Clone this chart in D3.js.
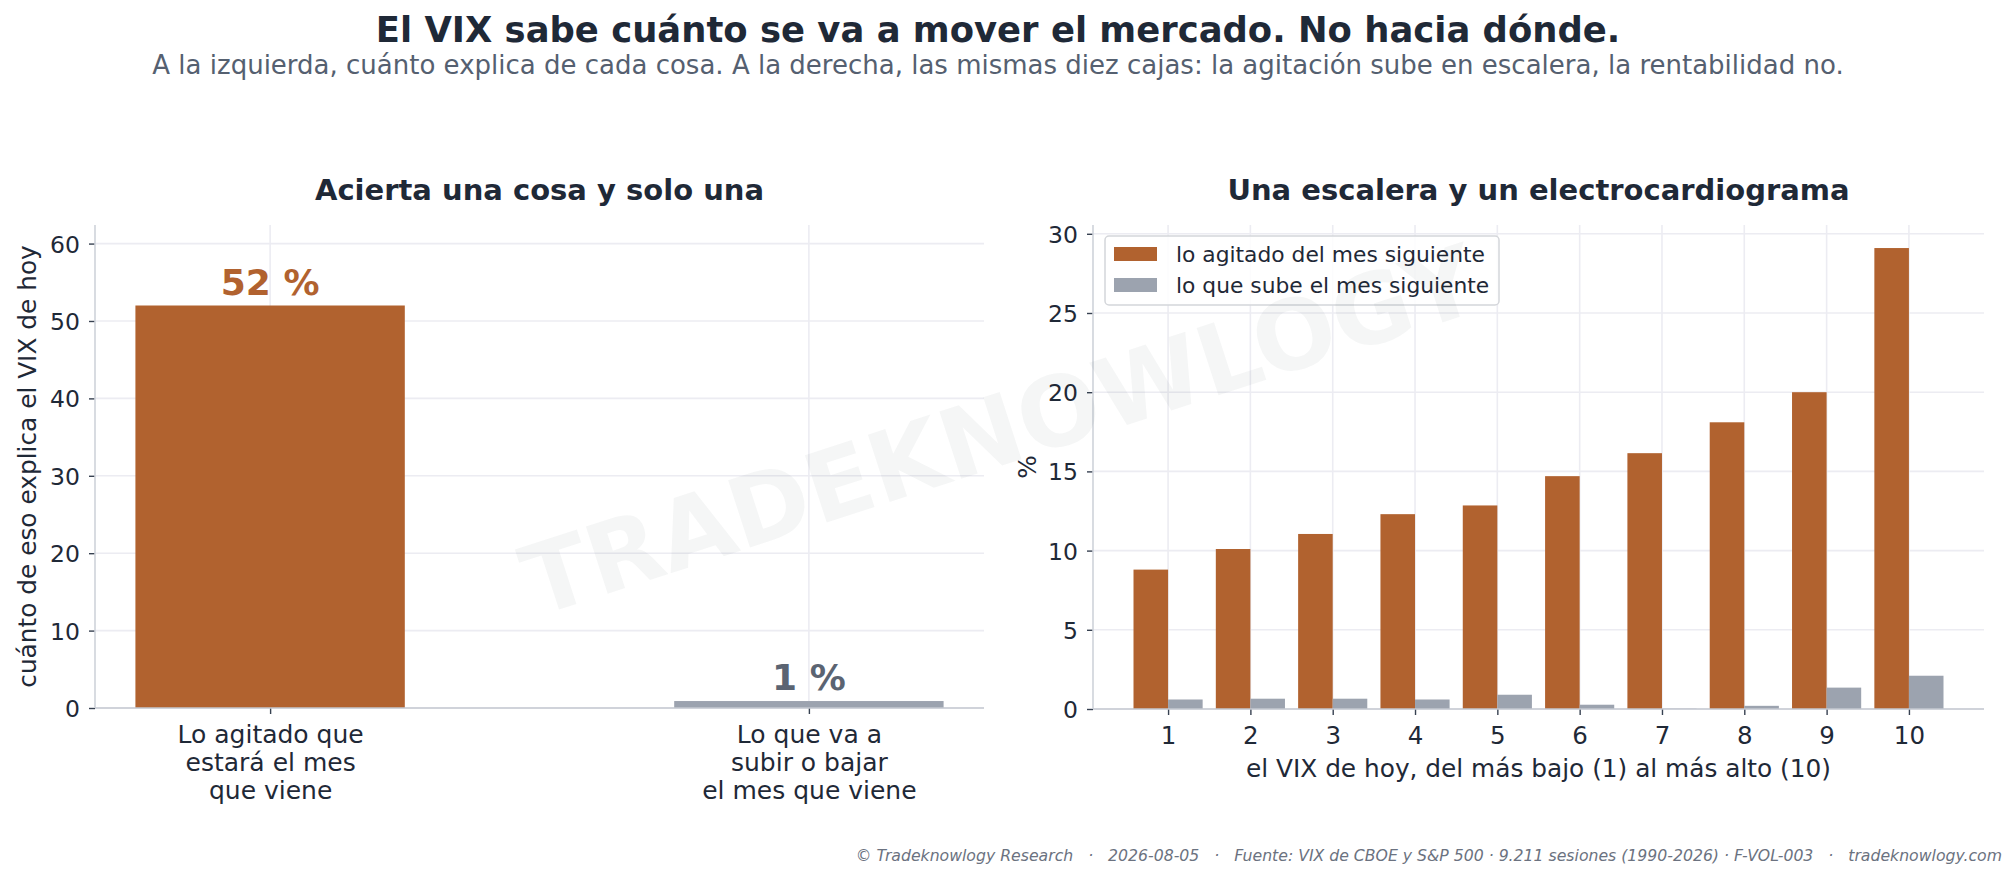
<!DOCTYPE html>
<html>
<head>
<meta charset="utf-8">
<script src="https://cdn.jsdelivr.net/npm/d3@7"></script>
<style>
  body { margin: 0; background: #fff; }
  svg { font-family: "DejaVu Sans", sans-serif; display: block; }
  .grid line { stroke: #ececf2; stroke-width: 1.6; }
  .axis text { fill: #1f2937; font-family: "DejaVu Sans", sans-serif; }
  .axis .tick line { stroke: #374151; stroke-width: 1.4; }
</style>
</head>
<body>
<svg id="chart"></svg>
<script>
let width = 2015;
let height = 879;

// left panel: share explained by today's VIX
let leftCats = [
  ["Lo agitado que", "estará el mes", "que viene"],
  ["Lo que va a", "subir o bajar", "el mes que viene"]
];
let leftValues = [52, 0.9];
let leftTicks = [0, 10, 20, 30, 40, 50, 60];

// right panel: ten VIX buckets
let deciles = [1, 2, 3, 4, 5, 6, 7, 8, 9, 10];
let agitado = [8.8, 10.1, 11.05, 12.3, 12.85, 14.7, 16.15, 18.1, 20.0, 29.1];
let sube = [0.6, 0.65, 0.65, 0.6, 0.9, 0.27, 0.02, 0.2, 1.35, 2.1];
let rightTicks = [0, 5, 10, 15, 20, 25, 30];
let seriesNames = ["lo agitado del mes siguiente", "lo que sube el mes siguiente"];

let orange = "#b1622f";
let grey = "#9ca3af";
let dark = "#1f2937";

let svg = d3.select("#chart").attr("width", width).attr("height", height);

// titles
svg.append("text")
  .attr("x", 998).attr("y", 42)
  .attr("text-anchor", "middle")
  .style("font-size", "35.4px").style("font-weight", "bold")
  .style("fill", dark)
  .text("El VIX sabe cuánto se va a mover el mercado. No hacia dónde.");

svg.append("text")
  .attr("x", 998).attr("y", 74)
  .attr("text-anchor", "middle")
  .style("font-size", "26px")
  .style("fill", "#556070")
  .text("A la izquierda, cuánto explica de cada cosa. A la derecha, las mismas diez cajas: la agitación sube en escalera, la rentabilidad no.");

// ---------- left panel ----------
let L = { left: 95, right: 984, top: 225, bottom: 708 };

let xL = d3.scaleLinear().domain([-0.325, 1.325]).range([L.left, L.right]);
let yL = d3.scaleLinear().domain([0, 62.4]).range([L.bottom, L.top]);

let gl = svg.append("g");

gl.append("g").attr("class", "grid")
  .selectAll("line").data(leftTicks).join("line")
  .attr("x1", L.left).attr("x2", L.right)
  .attr("y1", d => yL(d)).attr("y2", d => yL(d));

gl.append("g").attr("class", "grid")
  .selectAll("line").data(leftCats).join("line")
  .attr("x1", (d, i) => xL(i)).attr("x2", (d, i) => xL(i))
  .attr("y1", L.top).attr("y2", L.bottom);

gl.selectAll("rect.bar")
  .data(leftValues)
  .join("rect")
  .attr("class", "bar")
  .attr("x", (d, i) => xL(i - 0.25))
  .attr("width", xL(0.5) - xL(0))
  .attr("y", d => yL(d))
  .attr("height", d => yL(0) - yL(d))
  .attr("fill", (d, i) => i == 0 ? orange : grey);

gl.selectAll("text.val")
  .data(leftValues)
  .join("text")
  .attr("class", "val")
  .attr("x", (d, i) => xL(i))
  .attr("y", d => yL(d) - 11)
  .attr("text-anchor", "middle")
  .style("font-size", "36px").style("font-weight", "bold")
  .style("fill", (d, i) => i == 0 ? orange : "#5b6472")
  .text(d => Math.round(d) + " %");

// y axis
let yAxisL = gl.append("g")
  .attr("class", "axis")
  .attr("transform", `translate(${L.left},0)`)
  .call(d3.axisLeft(yL).tickValues(leftTicks).tickSize(6).tickPadding(9))
  .call(g => g.select(".domain").remove());
yAxisL.selectAll("text").style("font-size", "23.5px").attr("dy", "0.36em");

// x axis with multi-line labels
let xAxisL = gl.append("g")
  .attr("class", "axis")
  .attr("transform", `translate(0,${L.bottom})`)
  .call(d3.axisBottom(xL).tickValues([0, 1]).tickSize(6).tickFormat(""))
  .call(g => g.select(".domain").remove());

xAxisL.selectAll(".tick").each(function (d) {
  let t = d3.select(this).select("text")
    .attr("y", 0).attr("dy", null)
    .style("font-size", "25px");
  leftCats[d].forEach((line, k) => {
    t.append("tspan").attr("x", 0).attr("y", 35 + k * 28).text(line);
  });
});

// spines
gl.append("line").attr("x1", L.left).attr("x2", L.left).attr("y1", L.top).attr("y2", L.bottom)
  .attr("stroke", "#cfd3da").attr("stroke-width", 1.6);
gl.append("line").attr("x1", L.left).attr("x2", L.right).attr("y1", L.bottom).attr("y2", L.bottom)
  .attr("stroke", "#c4c9d1").attr("stroke-width", 1.6);

gl.append("text")
  .attr("transform", `translate(36,${(L.top + L.bottom) / 2}) rotate(-90)`)
  .attr("text-anchor", "middle")
  .style("font-size", "24.8px").style("fill", dark)
  .text("cuánto de eso explica el VIX de hoy");

gl.append("text")
  .attr("x", (L.left + L.right) / 2).attr("y", 200)
  .attr("text-anchor", "middle")
  .style("font-size", "29px").style("font-weight", "bold").style("fill", dark)
  .text("Acierta una cosa y solo una");

// ---------- right panel ----------
let R = { left: 1093, right: 1984, top: 225, bottom: 709 };
let barW = 0.42;

let xR = d3.scaleLinear().domain([0.088, 10.912]).range([R.left, R.right]);
let yR = d3.scaleLinear().domain([0, d3.max(agitado) * 1.05]).range([R.bottom, R.top]);

let gr = svg.append("g");

gr.append("g").attr("class", "grid")
  .selectAll("line").data(rightTicks).join("line")
  .attr("x1", R.left).attr("x2", R.right)
  .attr("y1", d => yR(d)).attr("y2", d => yR(d));

gr.append("g").attr("class", "grid")
  .selectAll("line").data(deciles).join("line")
  .attr("x1", d => xR(d)).attr("x2", d => xR(d))
  .attr("y1", R.top).attr("y2", R.bottom);

gr.selectAll("rect.ag")
  .data(agitado)
  .join("rect")
  .attr("class", "ag")
  .attr("x", (d, i) => xR(deciles[i] - barW))
  .attr("width", xR(barW) - xR(0))
  .attr("y", d => yR(d))
  .attr("height", d => yR(0) - yR(d))
  .attr("fill", orange);

gr.selectAll("rect.su")
  .data(sube)
  .join("rect")
  .attr("class", "su")
  .attr("x", (d, i) => xR(deciles[i]))
  .attr("width", xR(barW) - xR(0))
  .attr("y", d => yR(d))
  .attr("height", d => yR(0) - yR(d))
  .attr("fill", grey);

let yAxisR = gr.append("g")
  .attr("class", "axis")
  .attr("transform", `translate(${R.left},0)`)
  .call(d3.axisLeft(yR).tickValues(rightTicks).tickSize(6).tickPadding(9))
  .call(g => g.select(".domain").remove());
yAxisR.selectAll("text").style("font-size", "23.5px").attr("dy", "0.36em");

let xAxisR = gr.append("g")
  .attr("class", "axis")
  .attr("transform", `translate(0,${R.bottom})`)
  .call(d3.axisBottom(xR).tickValues(deciles).tickSize(6).tickFormat(d3.format("d")))
  .call(g => g.select(".domain").remove());
xAxisR.selectAll("text").style("font-size", "24.5px").attr("y", 0).attr("dy", null)
  .attr("transform", "translate(0,35)");

gr.append("line").attr("x1", R.left).attr("x2", R.left).attr("y1", R.top).attr("y2", R.bottom)
  .attr("stroke", "#cfd3da").attr("stroke-width", 1.6);
gr.append("line").attr("x1", R.left).attr("x2", R.right).attr("y1", R.bottom).attr("y2", R.bottom)
  .attr("stroke", "#c4c9d1").attr("stroke-width", 1.6);

gr.append("text")
  .attr("transform", `translate(1036,${(R.top + R.bottom) / 2}) rotate(-90)`)
  .attr("text-anchor", "middle")
  .style("font-size", "24.8px").style("fill", dark)
  .text("%");

gr.append("text")
  .attr("x", (R.left + R.right) / 2).attr("y", 777)
  .attr("text-anchor", "middle")
  .style("font-size", "24.8px").style("fill", dark)
  .text("el VIX de hoy, del más bajo (1) al más alto (10)");

gr.append("text")
  .attr("x", (R.left + R.right) / 2).attr("y", 200)
  .attr("text-anchor", "middle")
  .style("font-size", "29px").style("font-weight", "bold").style("fill", dark)
  .text("Una escalera y un electrocardiograma");

// legend
let legend = gr.append("g").attr("transform", "translate(1105,236)");
legend.append("rect")
  .attr("width", 394).attr("height", 69).attr("rx", 4)
  .attr("fill", "#fff").attr("fill-opacity", 0.85)
  .attr("stroke", "#d4d6da").attr("stroke-width", 1.5);
let items = legend.selectAll("g.item")
  .data(seriesNames)
  .join("g")
  .attr("class", "item")
  .attr("transform", (d, i) => `translate(0,${18 + i * 31})`);
items.append("rect")
  .attr("x", 9).attr("y", -7).attr("width", 43).attr("height", 14)
  .attr("fill", (d, i) => i == 0 ? orange : grey);
items.append("text")
  .attr("x", 71).attr("dy", "0.36em")
  .style("font-size", "21.8px").style("fill", dark)
  .text(d => d);

// watermark
svg.append("text")
  .attr("transform", "translate(1000,431) rotate(-18)")
  .attr("text-anchor", "middle")
  .attr("dominant-baseline", "central")
  .style("font-size", "97px").style("font-weight", "bold")
  .style("fill", "#1f2937").style("fill-opacity", 0.045)
  .text("TRADEKNOWLOGY");

// footer
svg.append("text")
  .attr("x", 2002).attr("y", 861)
  .attr("text-anchor", "end")
  .attr("xml:space", "preserve")
  .style("white-space", "pre")
  .style("font-size", "15.7px").style("font-style", "italic")
  .style("fill", "#6b7280")
  .text("© Tradeknowlogy Research   ·   2026-08-05   ·   Fuente: VIX de CBOE y S&P 500 · 9.211 sesiones (1990-2026) · F-VOL-003   ·   tradeknowlogy.com");
</script>
</body>
</html>
